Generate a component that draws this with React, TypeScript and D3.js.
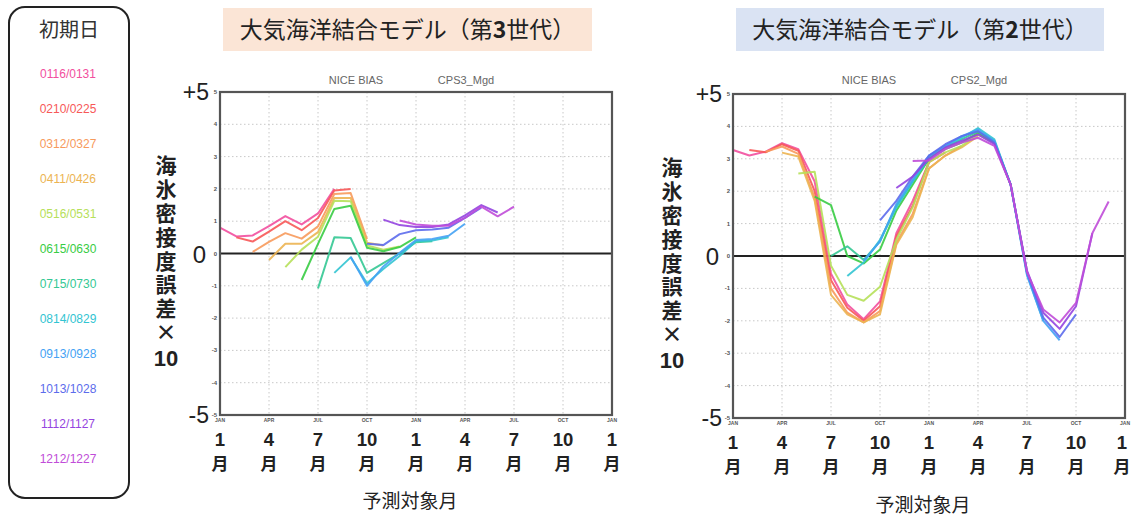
import React from "react";
import * as d3 from "d3";

// ---- data ----
const initDates = ["0116/0131","0210/0225","0312/0327","0411/0426","0516/0531","0615/0630","0715/0730","0814/0829","0913/0928","1013/1028","1112/1127","1212/1227"];
const seriesColors = ["#f24f9e","#f75858","#f79a5c","#ecb452","#b6e05a","#38cc44","#34c894","#32c4d2","#44a2f4","#5c6cec","#9444e0","#c04cd8"];
const startMonth = [0,1,2,3,4,5,6,7,8,9,10,11];

const monthTickLabels = ["JAN","APR","JUL","OCT","JAN","APR","JUL","OCT","JAN"];
const monthBigLabels = ["1","4","7","10","1","4","7","10","1"];
const yTickValues = [-5,-4,-3,-2,-1,0,1,2,3,4,5];

// CPS3 (8 monthly values per initial date)
const cps3Values: number[][] = [
  [0.8, 0.53, 0.56, 0.85, 1.16, 0.9, 1.24, 2.0],
  [0.5, 0.37, 0.68, 1.0, 0.72, 1.1, 1.95, 2.0],
  [0.05, 0.36, 0.63, 0.46, 0.84, 1.84, 1.87, 0.45],
  [-0.2, 0.3, 0.3, 0.66, 1.72, 1.72, 0.33, 0.25],
  [-0.42, 0.12, 0.52, 1.63, 1.62, 0.25, 0.12, 0.22],
  [-0.82, 0.3, 1.38, 1.48, 0.18, 0.07, 0.2, 0.5],
  [-1.08, 0.5, 0.48, -0.6, -0.3, 0.0, 0.35, 0.38],
  [-0.6, -0.12, -0.92, -0.48, -0.08, 0.38, 0.4, 0.5],
  [-0.1, -1.0, -0.4, 0.02, 0.42, 0.45, 0.55, 0.92],
  [0.3, 0.26, 0.6, 0.72, 0.74, 0.8, 1.1, 1.42],
  [1.05, 0.88, 0.82, 0.82, 0.9, 1.18, 1.5, 1.27],
  [1.02, 0.9, 0.86, 0.86, 1.1, 1.45, 1.15, 1.45],
];

// CPS2 (13 monthly values per initial date)
const cps2Values: number[][] = [
  [3.27, 3.1, 3.22, 3.48, 3.3, 2.3, -0.55, -1.5, -1.95, -1.4, 0.7, 1.7, 2.9],
  [3.27, 3.2, 3.45, 3.25, 2.0, -0.75, -1.6, -2.0, -1.55, 0.6, 1.55, 2.9, 3.2],
  [3.22, 3.38, 3.15, 1.8, -1.0, -1.75, -2.05, -1.7, 0.4, 1.3, 2.7, 3.1, 3.4],
  [3.19, 3.07, 1.7, -1.2, -1.8, -2.05, -1.8, 0.35, 1.2, 2.7, 3.1, 3.35, 3.7],
  [2.55, 2.6, -0.3, -1.2, -1.38, -0.95, 0.5, 1.5, 2.9, 3.2, 3.4, 3.75, 3.5],
  [1.83, 1.57, 0.0, -0.23, 0.2, 1.4, 2.2, 3.0, 3.3, 3.5, 3.8, 3.5, 2.2],
  [0.0, 0.3, -0.12, 0.45, 1.55, 2.3, 3.0, 3.35, 3.6, 3.85, 3.55, 2.2, -0.5],
  [-0.62, -0.2, 0.5, 1.5, 2.3, 3.05, 3.4, 3.65, 3.95, 3.6, 2.2, -0.55, -2.0],
  [-0.15, 0.45, 1.6, 2.35, 3.1, 3.4, 3.7, 3.9, 3.55, 2.2, -0.6, -2.0, -2.6],
  [1.1, 1.7, 2.45, 3.1, 3.45, 3.7, 3.85, 3.5, 2.2, -0.5, -1.9, -2.5, -1.8],
  [2.1, 2.45, 3.0, 3.35, 3.55, 3.75, 3.45, 2.2, -0.45, -1.75, -2.25, -1.55, 0.7],
  [2.93, 2.95, 3.3, 3.5, 3.65, 3.4, 2.2, -0.5, -1.65, -2.05, -1.45, 0.7, 1.68],
];

const JP = "'Noto Sans CJK JP', sans-serif";
const LAT = "'Liberation Sans', Arial, sans-serif";
const yTitleText = "海氷密接度誤差×";
const yTitleTail = "10";

type PanelProps = {
  left: number; right: number; top: number; bottom: number;
  values: number[][];
  title: string; titleNum: string; titleFill: string;
  boxX: number; boxW: number;
  subLabel: string;
  yTitleX: number;
  xTitleY: number;
};

function Panel(p: PanelProps) {
  const x = d3.scaleLinear().domain([0, 24]).range([p.left, p.right]);
  const y = d3.scaleLinear().domain([-5, 5]).range([p.bottom, p.top]);
  const line = d3.line<[number, number]>().x(d => x(d[0])).y(d => y(d[1]));
  const xTicks = d3.range(0, 25, 3);
  const cx = (p.left + p.right) / 2;
  const bigX = (t: number) => Math.min(x(t), 1122);
  return (
    <g>
      {/* title box */}
      <rect x={p.boxX} y={8} width={p.boxW} height={43} fill={p.titleFill} />
      <text x={p.boxX + p.boxW / 2} y={38} textAnchor="middle" fontFamily={JP} fontSize={23} fill="#222">
        {p.title}<tspan fontWeight="bold">{p.titleNum}</tspan>世代）
      </text>
      {/* sub label */}
      <text x={cx - 60} y={84} textAnchor="middle" fontFamily={LAT} fontSize={11} fill="#666">NICE  BIAS</text>
      <text x={cx + 50} y={84} textAnchor="middle" fontFamily={LAT} fontSize={11} fill="#666">{p.subLabel}</text>
      {/* grid */}
      {xTicks.map((t, i) => (
        <line key={"gx" + i} x1={x(t)} x2={x(t)} y1={p.top} y2={p.bottom} stroke="#c8c8c8" strokeWidth={1} strokeDasharray="1.5,2.5" />
      ))}
      {yTickValues.map((v, i) => (
        <line key={"gy" + i} x1={p.left} x2={p.right} y1={y(v)} y2={y(v)} stroke="#c8c8c8" strokeWidth={1} strokeDasharray="1.5,2.5" />
      ))}
      {/* zero line */}
      <line x1={p.left} x2={p.right} y1={y(0)} y2={y(0)} stroke="#222" strokeWidth={1.8} />
      {/* series */}
      {p.values.map((vals, si) => {
        const pts: [number, number][] = vals.map((v, k) => [startMonth[si] + k, v]);
        return <path key={"s" + si} d={line(pts) || ""} fill="none" stroke={seriesColors[si]} strokeWidth={2} strokeOpacity={0.9} strokeLinejoin="round" />;
      })}
      {/* frame */}
      <rect x={p.left} y={p.top} width={p.right - p.left} height={p.bottom - p.top} fill="none" stroke="#555" strokeWidth={2.2} />
      {/* tiny tick labels */}
      {yTickValues.map((v, i) => (
        <text key={"ty" + i} x={p.left - 3} y={y(v) + 2} textAnchor="end" fontFamily={LAT} fontSize={6} fontWeight="bold" fill="#555">{v}</text>
      ))}
      {xTicks.map((t, i) => (
        <text key={"tx" + i} x={x(t)} y={p.bottom + 7} textAnchor="middle" fontFamily={LAT} fontSize={5} fontWeight="bold" fill="#555">{monthTickLabels[i]}</text>
      ))}
      {/* big y labels */}
      <text x={p.left - 11} y={y(5) + 8} textAnchor="end" fontFamily={LAT} fontSize={23} fill="#222">+5</text>
      <text x={p.left - 14} y={y(0) + 9} textAnchor="end" fontFamily={LAT} fontSize={24} fill="#222">0</text>
      <text x={p.left - 11} y={y(-5) + 8} textAnchor="end" fontFamily={LAT} fontSize={23} fill="#222">-5</text>
      {/* big x labels */}
      {xTicks.map((t, i) => (
        <g key={"bx" + i}>
          <text x={bigX(t)} y={p.bottom + 31} textAnchor="middle" fontFamily={LAT} fontSize={18.5} fontWeight="bold" fill="#222">{monthBigLabels[i]}</text>
          <text x={bigX(t)} y={p.bottom + 55} textAnchor="middle" fontFamily={JP} fontSize={17} fontWeight="bold" fill="#222">月</text>
        </g>
      ))}
      {/* y title (vertical) */}
      <text x={p.yTitleX} y={p.top + 63} fontFamily={JP} fontSize={21} fontWeight="bold" fill="#222"
        style={{ writingMode: "vertical-rl", letterSpacing: "2.8px" } as React.CSSProperties}>{yTitleText}</text>
      <text x={p.yTitleX} y={p.top + 274} textAnchor="middle" fontFamily={LAT} fontSize={22} fontWeight="bold" fill="#222">{yTitleTail}</text>
      {/* x title */}
      <text x={cx - 6} y={p.xTitleY} textAnchor="middle" fontFamily={JP} fontSize={19} fill="#222">予測対象月</text>
    </g>
  );
}

export default function App() {
  return (
    <svg width={1132} height={519} style={{ position: "absolute", left: 0, top: 0, background: "#fff" }}>
      <rect x={0} y={0} width={1132} height={519} fill="#fff" />
      {/* legend */}
      <rect x={9} y={7} width={120} height={491} rx={16} ry={16} fill="#fff" stroke="#222" strokeWidth={2} />
      <text x={69} y={37} textAnchor="middle" fontFamily={JP} fontSize={20} fill="#333">初期日</text>
      {initDates.map((d, i) => (
        <text key={d} x={68} y={78 + i * 35} textAnchor="middle" fontFamily={LAT} fontSize={12} fill={seriesColors[i]}>{d}</text>
      ))}
      <Panel left={220} right={612} top={92} bottom={415} values={cps3Values}
        title="大気海洋結合モデル（第" titleNum="3" titleFill="#fbe5d6" boxX={223} boxW={369}
        subLabel="CPS3_Mgd" yTitleX={166} xTitleY={508} />
      <Panel left={733} right={1125} top={94} bottom={418} values={cps2Values}
        title="大気海洋結合モデル（第" titleNum="2" titleFill="#dae3f3" boxX={736} boxW={368}
        subLabel="CPS2_Mgd" yTitleX={672} xTitleY={512} />
    </svg>
  );
}
